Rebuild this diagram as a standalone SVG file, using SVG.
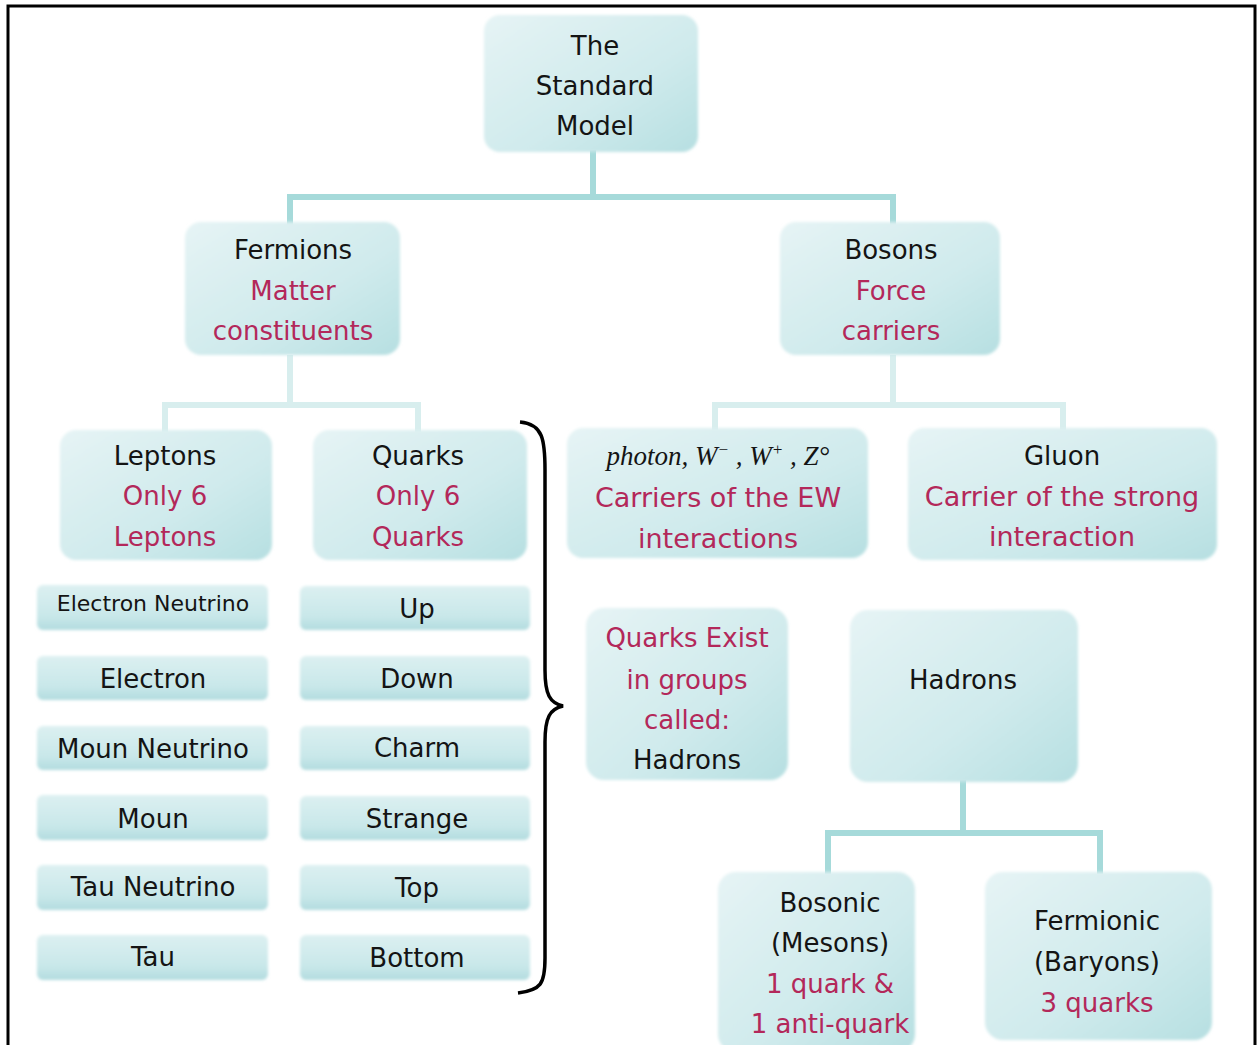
<svg xmlns="http://www.w3.org/2000/svg" width="1257" height="1045" viewBox="0 0 1257 1045">
<defs>
<linearGradient id="bg" x1="0" y1="0" x2="1" y2="1">
<stop offset="0" stop-color="#e6f4f5"/>
<stop offset="0.6" stop-color="#cfeaec"/>
<stop offset="1" stop-color="#b6dfe1"/>
</linearGradient>
<linearGradient id="sg" x1="0" y1="0" x2="0" y2="1">
<stop offset="0" stop-color="#dcf0f1"/>
<stop offset="0.7" stop-color="#c8e7e9"/>
<stop offset="1" stop-color="#b2dcdf"/>
</linearGradient>
<filter id="soft" x="-5%" y="-5%" width="110%" height="110%">
<feGaussianBlur stdDeviation="1.6"/>
</filter>
<style>
.box{fill:url(#bg);filter:url(#soft)}
.sbox{fill:url(#sg);filter:url(#soft)}
text{font-family:"DejaVu Sans","Liberation Sans",sans-serif;font-size:26px;text-anchor:middle;fill:#141414}
.r{fill:#b3285a}
.s{font-size:22px}
.w{font-size:27px}
.it{font-family:"Liberation Serif","DejaVu Serif",serif;font-style:italic;font-size:27px}
.c1{stroke:#a6dada;stroke-width:6;fill:none}
.c2{stroke:#d8eeee;stroke-width:6;fill:none}
</style>
</defs>
<rect x="0" y="0" width="1257" height="1045" fill="#ffffff"/>
<path d="M8,1045 V6 H1255 V1045" fill="none" stroke="#000" stroke-width="3"/>

<g id="connectors">
<path class="c1" d="M593,150 V197 M290,197 H896 M290,194 V225 M893,194 V225"/>
<path class="c2" d="M290,355 V405 M165,405 H418 M165,402 V432 M418,402 V432"/>
<path class="c2" d="M893,355 V405 M715,405 H1063 M715,402 V430 M1063,402 V430"/>
<path class="c1" d="M963,780 V833 M828,833 H1100 M828,830 V874 M1100,830 V874"/>
<path d="M520,422 C543,424 545,440 545,470 V670 C545,695 550,703 563,706 C550,709 545,717 545,742 V958 C545,984 541,990 518,993" fill="none" stroke="#000" stroke-width="3.5"/>
</g>

<g id="n-standard-model"><rect class="box" x="484" y="15" width="214" height="137" rx="16"/><text x="595" y="55">The</text><text x="595" y="95">Standard</text><text x="595" y="135">Model</text></g>

<g id="n-fermions"><rect class="box" x="185" y="222" width="215" height="133" rx="16"/><text x="293" y="259">Fermions</text><text class="r" x="293" y="300">Matter</text><text class="r" x="293" y="340">constituents</text></g>

<g id="n-bosons"><rect class="box" x="780" y="222" width="220" height="133" rx="16"/><text x="891" y="259">Bosons</text><text class="r" x="891" y="300">Force</text><text class="r" x="891" y="340">carriers</text></g>

<g id="n-leptons"><rect class="box" x="60" y="430" width="212" height="130" rx="16"/><text x="165" y="465">Leptons</text><text class="r" x="165" y="505">Only 6</text><text class="r" x="165" y="546">Leptons</text></g>

<g id="n-quarks"><rect class="box" x="313" y="430" width="214" height="130" rx="16"/><text x="418" y="465">Quarks</text><text class="r" x="418" y="505">Only 6</text><text class="r" x="418" y="546">Quarks</text></g>

<g id="n-ew"><rect class="box" x="567" y="428" width="301" height="130" rx="16"/><text class="it" x="718" y="465">photon, W<tspan font-size="17" dy="-10">−</tspan><tspan dy="10"> , W</tspan><tspan font-size="17" dy="-10">+</tspan><tspan dy="10"> , Z°</tspan></text><text class="r w" x="718" y="507">Carriers of the EW</text><text class="r w" x="718" y="548">interactions</text></g>

<g id="n-gluon"><rect class="box" x="908" y="428" width="309" height="132" rx="16"/><text x="1062" y="465">Gluon</text><text class="r w" x="1062" y="506">Carrier of the strong</text><text class="r w" x="1062" y="546">interaction</text></g>

<g id="n-electron-neutrino"><rect class="sbox" x="37" y="585" width="231" height="45" rx="6"/><text class="s" x="153" y="611">Electron Neutrino</text></g>
<g id="n-electron"><rect class="sbox" x="37" y="656" width="231" height="44" rx="6"/><text x="153" y="688">Electron</text></g>
<g id="n-moun-neutrino"><rect class="sbox" x="37" y="726" width="231" height="44" rx="6"/><text x="153" y="758">Moun Neutrino</text></g>
<g id="n-moun"><rect class="sbox" x="37" y="795" width="231" height="45" rx="6"/><text x="153" y="828">Moun</text></g>
<g id="n-tau-neutrino"><rect class="sbox" x="37" y="865" width="231" height="45" rx="6"/><text x="153" y="896">Tau Neutrino</text></g>
<g id="n-tau"><rect class="sbox" x="37" y="935" width="231" height="45" rx="6"/><text x="153" y="966">Tau</text></g>

<g id="n-up"><rect class="sbox" x="300" y="586" width="230" height="44" rx="6"/><text x="417" y="618">Up</text></g>
<g id="n-down"><rect class="sbox" x="300" y="656" width="230" height="44" rx="6"/><text x="417" y="688">Down</text></g>
<g id="n-charm"><rect class="sbox" x="300" y="726" width="230" height="44" rx="6"/><text x="417" y="757">Charm</text></g>
<g id="n-strange"><rect class="sbox" x="300" y="796" width="230" height="44" rx="6"/><text x="417" y="828">Strange</text></g>
<g id="n-top"><rect class="sbox" x="300" y="865" width="230" height="45" rx="6"/><text x="417" y="897">Top</text></g>
<g id="n-bottom"><rect class="sbox" x="300" y="935" width="230" height="45" rx="6"/><text x="417" y="967">Bottom</text></g>

<g id="n-quarks-exist"><rect class="box" x="586" y="608" width="202" height="172" rx="18"/><text class="r" x="687" y="647">Quarks Exist</text><text class="r" x="687" y="689">in groups</text><text class="r" x="687" y="729">called:</text><text x="687" y="769">Hadrons</text></g>

<g id="n-hadrons"><rect class="box" x="850" y="610" width="228" height="172" rx="18"/><text x="963" y="689">Hadrons</text></g>

<g id="n-bosonic"><rect class="box" x="718" y="872" width="197" height="180" rx="18"/><text x="830" y="912">Bosonic</text><text x="830" y="952">(Mesons)</text><text class="r" x="830" y="993">1 quark &amp;</text><text class="r" x="830" y="1033">1 anti-quark</text></g>

<g id="n-fermionic"><rect class="box" x="985" y="872" width="227" height="168" rx="18"/><text x="1097" y="930">Fermionic</text><text x="1097" y="971">(Baryons)</text><text class="r" x="1097" y="1012">3 quarks</text></g>
</svg>
